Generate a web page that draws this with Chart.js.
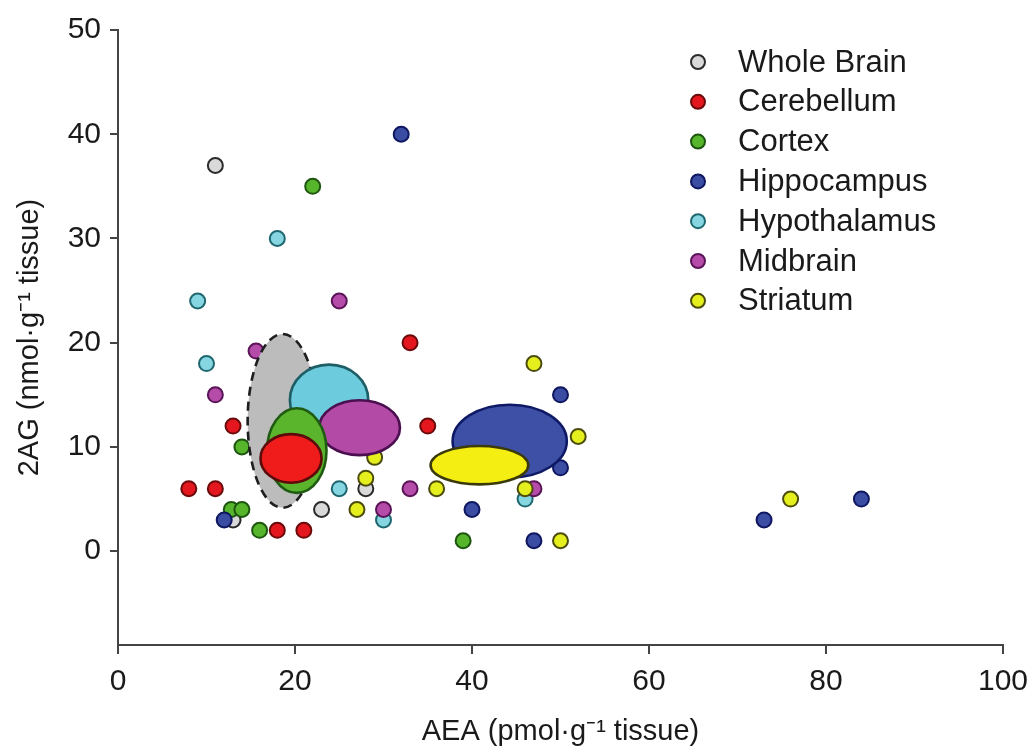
<!DOCTYPE html>
<html><head><meta charset="utf-8">
<script src="https://cdn.jsdelivr.net/npm/chart.js@4"></script>
<style>html,body{margin:0;padding:0;background:#fff}</style>
</head><body>
<canvas id="c" width="1028" height="751" style="display:block;width:1028px;height:751px"></canvas>
<script>
// ---- data ----
const groups = ['Whole Brain','Cerebellum','Cortex','Hippocampus','Hypothalamus','Midbrain','Striatum'];

const wholeBrainX   = [11, 13, 23, 28];
const wholeBrainY   = [37, 3, 4, 6];
const cerebellumX   = [8, 11, 13, 18, 21, 33, 35];
const cerebellumY   = [6, 6, 12, 2, 2, 20, 12];
const cortexX       = [22, 14, 12.8, 14, 16, 39];
const cortexY       = [35, 10, 4, 4, 2, 1];
const hippocampusX  = [32, 12, 40, 50, 50, 47, 73, 84];
const hippocampusY  = [40, 3, 4, 15, 8, 1, 3, 5];
const hypothalamusX = [18, 9, 10, 25, 30, 46];
const hypothalamusY = [30, 24, 18, 6, 3, 5];
const midbrainX     = [25, 15.6, 11, 33, 30, 47];
const midbrainY     = [24, 19.2, 15, 6, 4, 6];
const striatumX     = [29, 28, 36, 27, 47, 52, 46, 50, 76];
const striatumY     = [9, 7, 6, 4, 18, 11, 6, 1, 5];

// group ellipses (centre and semi-axes, data units), same order as groups
const ellipseCx = [18.6, 19.55, 20.2, 44.26, 23.85, 27.3, 40.84];
const ellipseCy = [12.5, 8.9, 9.65, 10.55, 14.5, 11.85, 8.25];
const ellipseRx = [3.95, 3.45, 3.36, 6.45, 4.43, 4.56, 5.52];
const ellipseRy = [8.33, 2.33, 4.06, 3.5, 3.4, 2.63, 1.84];

const xTicks = [0, 20, 40, 60, 80, 100];
const yTicks = [0, 10, 20, 30, 40, 50];

// ---- styles ----
const FONT = '"Liberation Sans", Arial, Helvetica, sans-serif';
const pointFill   = ['#d9d9d9','#e3171d','#56b52a','#3b4ca3','#86d6e2','#b54ca9','#e6ef1e'];
const pointBorder = ['#2b2b2b','#6a0a0a','#1d5610','#0e1760','#1f6770','#5a1457','#4b4b0c'];
const ellFill     = ['#bcbcbc','#f01c1c','#5bb52c','#3e4fa6','#6ccbdc','#b24aa6','#f5ee12'];
const ellStroke   = ['#1e1e1e','#5c0b0b','#1f5c12','#0f1a66','#1e5e66','#4b0f4f','#3a3a0a'];
const ellOrder    = [0, 4, 5, 2, 1, 3, 6];

const xs = [wholeBrainX, cerebellumX, cortexX, hippocampusX, hypothalamusX, midbrainX, striatumX];
const ys = [wholeBrainY, cerebellumY, cortexY, hippocampusY, hypothalamusY, midbrainY, striatumY];

const datasets = groups.map((g, i) => ({
  label: g,
  data: xs[i].map((x, k) => ({x: x, y: ys[i][k]})),
  backgroundColor: pointFill[i],
  borderColor: pointBorder[i],
  pointRadius: 7.5,
  pointBorderWidth: 2,
  order: groups.length - 1 - i
}));

const ellipsePlugin = {
  id: 'ellipses',
  afterDatasetsDraw(chart) {
    const ctx = chart.ctx, xs_ = chart.scales.x, ys_ = chart.scales.y;
    ellOrder.forEach(i => {
      const cx = xs_.getPixelForValue(ellipseCx[i]);
      const cy = ys_.getPixelForValue(ellipseCy[i]);
      const rx = Math.abs(xs_.getPixelForValue(ellipseCx[i] + ellipseRx[i]) - cx);
      const ry = Math.abs(ys_.getPixelForValue(ellipseCy[i] + ellipseRy[i]) - cy);
      ctx.save();
      ctx.beginPath();
      ctx.ellipse(cx, cy, rx, ry, 0, 0, Math.PI * 2);
      ctx.fillStyle = ellFill[i];
      ctx.fill();
      ctx.lineWidth = 2.6;
      ctx.strokeStyle = ellStroke[i];
      if (i === 0) ctx.setLineDash([9, 6]);
      ctx.stroke();
      ctx.restore();
    });
  }
};

const legendPlugin = {
  id: 'insideLegend',
  afterDraw(chart) {
    const ctx = chart.ctx;
    const mx = 698, tx = 738, top = 62, gap = 39.8;
    chart.data.datasets.forEach((ds, i) => {
      const yy = top + i * gap;
      ctx.save();
      ctx.beginPath();
      ctx.arc(mx, yy, 7, 0, Math.PI * 2);
      ctx.fillStyle = ds.backgroundColor;
      ctx.fill();
      ctx.lineWidth = 2;
      ctx.strokeStyle = ds.borderColor;
      ctx.stroke();
      ctx.fillStyle = '#1a1a1a';
      ctx.font = '31px ' + FONT;
      ctx.textAlign = 'left';
      ctx.textBaseline = 'middle';
      ctx.fillText(ds.label, tx, yy + 1);
      ctx.restore();
    });
  }
};

new Chart(document.getElementById('c'), {
  type: 'scatter',
  data: { datasets },
  plugins: [ellipsePlugin, legendPlugin],
  options: {
    responsive: false,
    devicePixelRatio: 1,
    animation: false,
    layout: { padding: { top: 30, right: 25, left: 0, bottom: 0 } },
    plugins: { legend: { display: false }, tooltip: { enabled: false } },
    scales: {
      x: {
        type: 'linear', min: 0, max: 100,
        afterBuildTicks: s => { s.ticks = xTicks.map(v => ({value: v})); },
        afterFit: s => { s.height = 106; s.paddingLeft = 0; s.paddingRight = 0; },
        grid: { drawOnChartArea: false, drawTicks: true, tickLength: 9, color: '#444', lineWidth: 2 },
        border: { display: true, color: '#444', width: 2 },
        ticks: { color: '#1a1a1a', font: { family: FONT, size: 30 }, padding: 10, maxRotation: 0, autoSkip: false },
        title: { display: true, text: 'AEA (pmol·g⁻¹ tissue)', color: '#1a1a1a', font: { family: FONT, size: 29 }, padding: { top: 0, bottom: 2 } }
      },
      y: {
        type: 'linear', min: -9, max: 50,
        afterBuildTicks: s => { s.ticks = yTicks.map(v => ({value: v})); },
        afterFit: s => { s.width = 118; s.paddingTop = 0; s.paddingBottom = 0; },
        grid: { drawOnChartArea: false, drawTicks: true, tickLength: 8, color: '#444', lineWidth: 2 },
        border: { display: true, color: '#444', width: 2 },
        ticks: { color: '#1a1a1a', font: { family: FONT, size: 30 }, padding: 9, autoSkip: false },
        title: { display: true, text: '2AG (nmol·g⁻¹ tissue)', color: '#1a1a1a', font: { family: FONT, size: 29 }, padding: { top: 13, bottom: 0 } }
      }
    }
  }
});
</script>
</body></html>
